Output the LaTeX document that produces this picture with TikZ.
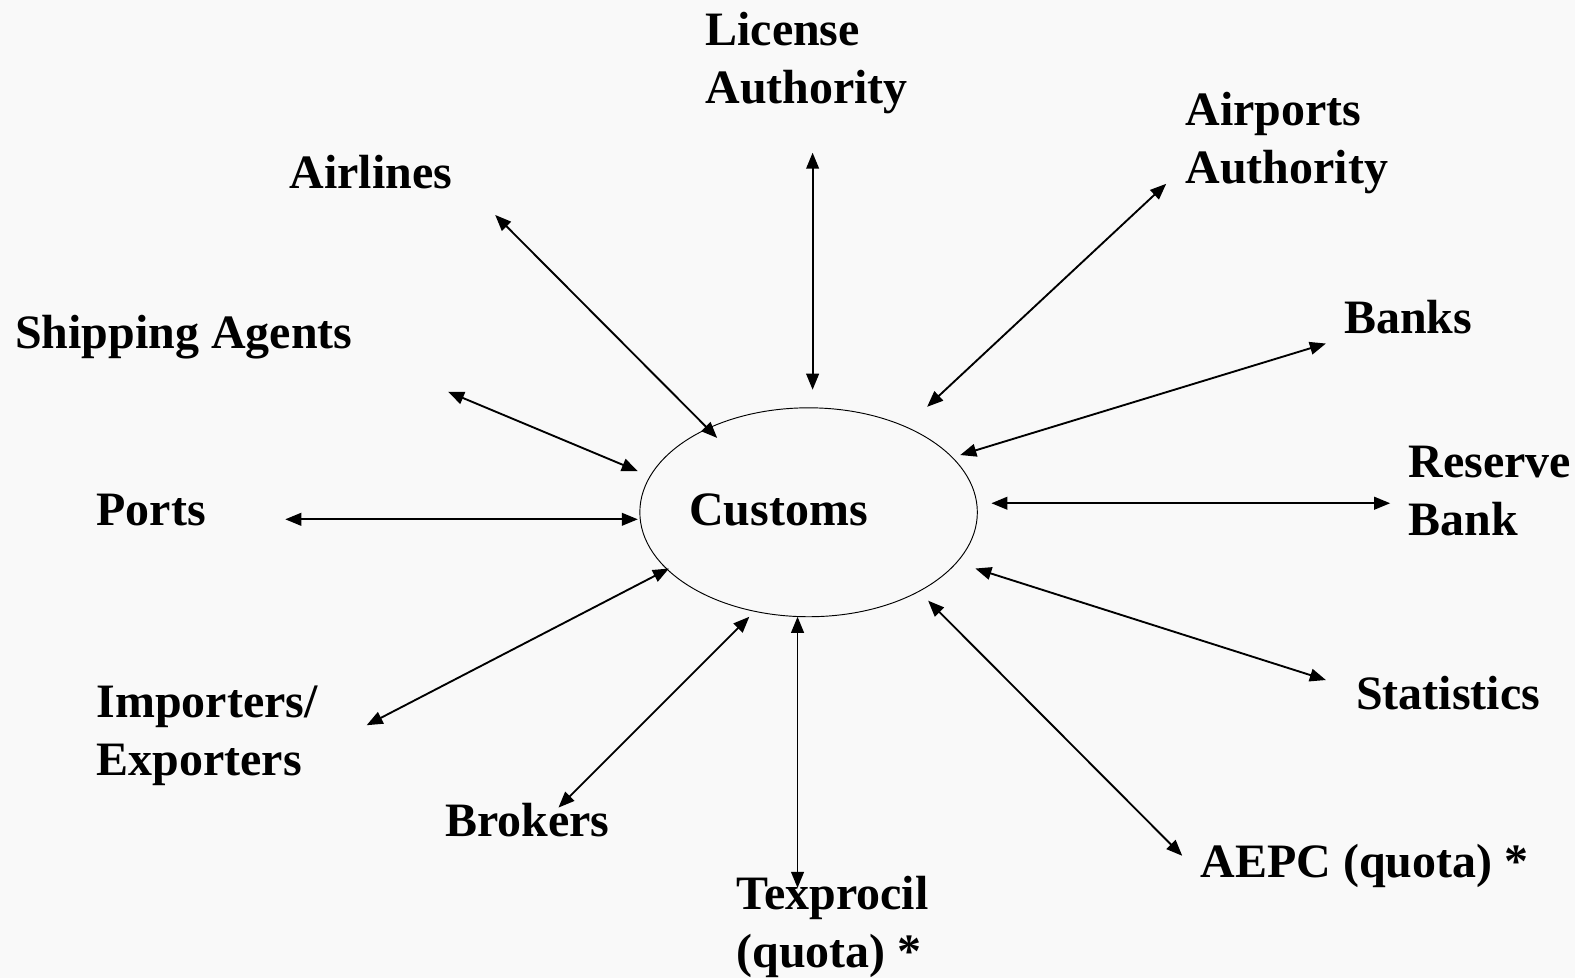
\documentclass[tikz,border=0pt]{standalone}
\usepackage{fontspec}
\setmainfont{Liberation Serif}
\usetikzlibrary{arrows.meta,shapes.geometric}
\definecolor{bgcol}{RGB}{249,249,249}
\tikzset{
  lbl/.style={anchor=base west, inner sep=0pt, align=left, font=\fontsize{35.8}{43.3}\selectfont\bfseries},
  link/.style={{Triangle[length=12pt,width=9.5pt]}-{Triangle[length=12pt,width=9.5pt]}, line width=1.4pt},
  hub/.style={ellipse, draw, line width=0.7pt, inner sep=0pt, minimum width=252pt, minimum height=156pt}
}
\begin{document}
\begin{tikzpicture}[x=0.75pt,y=-0.75pt]
\fill[bgcol] (0,0) rectangle (1568,973.6);
\useasboundingbox (0,0) rectangle (1568,973.6);

\node[hub] (cust) at (805,510) {};
\node[lbl] (custl) at (686,523) {Customs};

% multi-line labels: base = baseline of the last line
\node[lbl] (lic) at (702,103) {License\\Authority};
\node[lbl] (air) at (288,188) {Airlines};
\node[lbl] (apt) at (1180,183) {Airports\\Authority};
\node[lbl] (shp) at (15,347) {Shipping Agents};
\node[lbl] (bnk) at (1338,332) {Banks};
\node[lbl] (prt) at (96,523) {Ports};
\node[lbl] (rsv) at (1402,533) {Reserve\\Bank};
\node[lbl] (imp) at (96,772) {Importers/\\Exporters};
\node[lbl] (sta) at (1350,706) {Statistics};
\node[lbl] (brk) at (443,833) {Brokers};
\node[lbl] (tex) at (733,963) {Texprocil\\(quota) *};
\node[lbl] (aep) at (1195,874) {AEPC (quota) *};

% connector end points
\coordinate (licA) at (809,152);  \coordinate (licB) at (809,388);
\coordinate (airA) at (493,214);  \coordinate (airB) at (714,436);
\coordinate (aptA) at (1161,183); \coordinate (aptB) at (923,405);
\coordinate (shpA) at (446,390);  \coordinate (shpB) at (635,469);
\coordinate (bnkA) at (1320,342); \coordinate (bnkB) at (956,453);
\coordinate (prtA) at (284,517);  \coordinate (prtB) at (635,517);
\coordinate (rsvA) at (1384,501); \coordinate (rsvB) at (987,501);
\coordinate (impA) at (365,722);  \coordinate (impB) at (666,566);
\coordinate (staA) at (1320,677); \coordinate (staB) at (971,566);
\coordinate (brkA) at (556,804);  \coordinate (brkB) at (746,614);
\coordinate (texA) at (794,884);  \coordinate (texB) at (794,614);
\coordinate (aepA) at (1177,852); \coordinate (aepB) at (924,598);

\draw[link] (licA) -- (licB);
\draw[link] (airA) -- (airB);
\draw[link] (aptA) -- (aptB);
\draw[link] (shpA) -- (shpB);
\draw[link] (bnkA) -- (bnkB);
\draw[link] (prtA) -- (prtB);
\draw[link] (rsvA) -- (rsvB);
\draw[link] (impA) -- (impB);
\draw[link] (staA) -- (staB);
\draw[link] (brkA) -- (brkB);
\draw[link] (texA) -- (texB);
\draw[link] (aepA) -- (aepB);
\end{tikzpicture}
\end{document}
